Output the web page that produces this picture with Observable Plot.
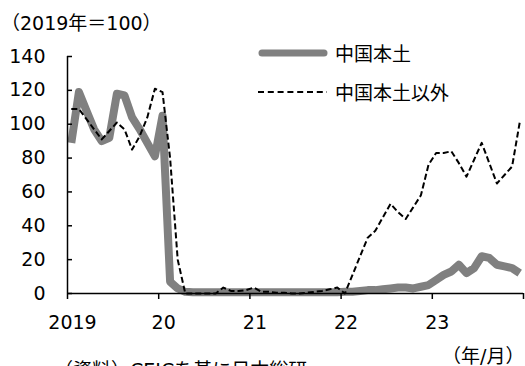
<!DOCTYPE html>
<html><head><meta charset="utf-8">
<script src="https://cdn.jsdelivr.net/npm/d3@7"></script>
<script src="https://cdn.jsdelivr.net/npm/@observablehq/plot@0.6"></script>
<style>
html,body{margin:0;padding:0;background:#fff;overflow:hidden;}
#wrap{position:relative;width:525px;height:366px;overflow:hidden;}
#wrap > svg, #wrap > figure{position:absolute;left:0;top:0;margin:0;}
</style></head><body><div id="wrap"></div>
<script>
// Series names
const seriesNames = ["中国本土", "中国本土以外"];
// Monthly values, 2019/1 - 2023/12 (2019 = 100)
const mainland = [
  89,119,108,97,90,92,118,117,104,97,89,81,
  105,7,3,1,0.8,0.8,0.8,0.8,0.8,0.8,0.8,0.8,
  0.8,0.8,0.8,0.8,0.8,0.8,0.8,0.8,0.8,0.8,0.8,0.8,
  1,1,1.5,2,2,2.5,3,3.5,3.5,3,4,5,
  8,11,13,17,12,15,22,21,17,16,15,12
];
const nonMainland = [
  109,109,103,97,91,96,101,97,85,93,104,121,
  119,80,20,0,0,0,0,0,3.5,1.5,1.5,2,
  3.5,1,1,0.5,0.5,0,0,0.5,1,1.5,2.5,3.5,
  0,11,22,33,37,45,53,48,44,51,58,76,
  83,83,84,77,69,79,89,77,65,70,75,101
];
// Axis ticks
const xTickVals = [0, 12, 24, 36, 48, 60];
const xTickLabels = ["2019", "20", "21", "22", "23", ""];
const yTicks = [0, 20, 40, 60, 80, 100, 120, 140];
// Texts
const titleText = "（2019年＝100）";
const unitText = "（年/月）";
const sourceText = "（資料）CEICを基に日本総研";

const mainData = mainland.map((v, i) => ({pos: i + 0.5, value: v}));
const otherData = nonMainland.map((v, i) => ({pos: i + 0.5, value: v}));

const FONT = "'DejaVu Sans', 'Noto Sans CJK JP', sans-serif";

const chart = Plot.plot({
  width: 525, height: 366,
  marginTop: 56, marginBottom: 73, marginLeft: 67, marginRight: 2,
  style: {fontFamily: FONT, fontSize: "19px", color: "black", background: "white"},
  x: {domain: [0, 60], label: null},
  y: {domain: [0, 140], label: null},
  marks: [
    Plot.line(mainData, {x: "pos", y: "value", stroke: "#808080", strokeWidth: 8, strokeLinejoin: "round", strokeLinecap: "butt"}),
    Plot.line(otherData, {x: "pos", y: "value", stroke: "black", strokeWidth: 2, strokeDasharray: "6,3", strokeLinecap: "butt"}),
    Plot.ruleY([0], {stroke: "black", strokeWidth: 1.5}),
    Plot.ruleX([0], {stroke: "black", strokeWidth: 1.5}),
    Plot.axisY({ticks: yTicks, tickSize: 0, tickPadding: 22, fontSize: 19, label: null}),
    Plot.axisY({ticks: yTicks, tickSize: 5, dx: 5, tickFormat: () => "", strokeWidth: 1.5, label: null}),
    Plot.axisX({ticks: xTickVals, tickSize: 6, tickFormat: () => "", strokeWidth: 1.5, label: null}),
    Plot.axisX({ticks: xTickVals, tickSize: 0, tickPadding: 22, dx: 5, fontSize: 19,
      tickFormat: d => xTickLabels[xTickVals.indexOf(d)], label: null})
  ]
});
const wrap = document.getElementById("wrap");
wrap.appendChild(chart);

// Overlay: title, legend, unit, source
const ov = d3.select(wrap).append("svg")
  .attr("width", 525).attr("height", 366)
  .style("font-family", FONT).style("font-size", "19px");
ov.append("text").attr("x", 1).attr("y", 30).text(titleText);
// legend
ov.append("line").attr("x1", 262).attr("x2", 324).attr("y1", 53).attr("y2", 53)
  .attr("stroke", "#808080").attr("stroke-width", 7).attr("stroke-linecap", "round");
ov.append("text").attr("x", 335).attr("y", 61).text(seriesNames[0]);
ov.append("line").attr("x1", 258).attr("x2", 327).attr("y1", 92).attr("y2", 92)
  .attr("stroke", "black").attr("stroke-width", 2).attr("stroke-dasharray", "6,3.8");
ov.append("text").attr("x", 335).attr("y", 100).text(seriesNames[1]);
ov.append("text").attr("x", 442).attr("y", 363).text(unitText);
ov.append("text").attr("x", 54).attr("y", 377).text(sourceText);
</script></body></html>
